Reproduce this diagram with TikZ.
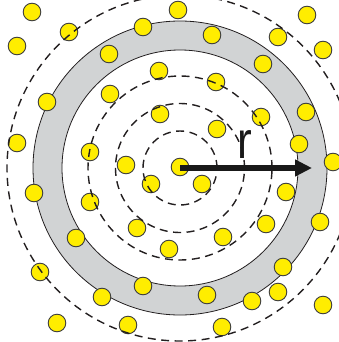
\documentclass[tikz,border=0pt]{standalone}
\usepackage{fontspec}
\setsansfont{Liberation Sans}
\usetikzlibrary{arrows.meta}
\definecolor{dotYel}{HTML}{FFED00}
\definecolor{dotEdge}{HTML}{3C3C3C}
\definecolor{ringGrey}{HTML}{D1D3D4}
\definecolor{lineInk}{HTML}{231F20}
\begin{document}
\begin{tikzpicture}[x=1pt,y=-1pt,font=\sffamily,
  ringedge/.style={draw=lineInk, line width=0.8pt},
  shell/.style={draw=lineInk, line width=1.4pt, dash pattern=on 8pt off 5.5pt},
  dot/.style={fill=dotYel, draw=dotEdge, line width=0.9pt},
  radarrow/.style={draw=black!90, line width=6pt, -{Triangle[length=17pt,width=16pt]}},
  rlabel/.style={font=\sffamily\fontsize{52}{52}\selectfont, text=black!90, anchor=base, inner sep=0pt, xscale=0.85},
]
\useasboundingbox (0,0) rectangle (339,342);
\coordinate (ctr) at (180,168);
% ---- grey shell ----
\fill[ringGrey, even odd rule] (ctr) circle[radius=147pt] (ctr) circle[radius=118pt];
\draw[ringedge] (ctr) circle[radius=147pt];
\draw[ringedge] (ctr) circle[radius=118pt];
% ---- particles ----
\foreach \x/\y in {32/12,69/32,143/27,178/10,17/46,109/54,159/71,212/35,278/37,307/15,
  323/50,263/64,47/102,110/94,160/114,216/82,261/117,306/112,17/143,90/152,
  126/165,217/129,299/144,333/162,180/167,34/193,90/202,151/184,202/184,286/192,
  137/228,76/238,169/249,223/237,266/224,320/222,40/272,143/286,102/297,207/295,
  252/301,278/292,283/267,323/305,57/323,128/325,222/327}{
  \draw[dot] (\x,\y) circle[radius=8.8pt];
}
% ---- dashed shells ----
\foreach \rr in {37,64.5,92}{\draw[shell] (ctr) circle[radius=\rr pt];}
\begin{scope}
  \clip (0,0) rectangle (339,342);
  \draw[shell] (ctr) circle[radius=173pt];
\end{scope}
% ---- radius arrow ----
\coordinate (rtip) at (312,168);
\draw[radarrow] (ctr) -- (rtip);
\node[rlabel] (rlab) at (245,158) {r};
\end{tikzpicture}
\end{document}
